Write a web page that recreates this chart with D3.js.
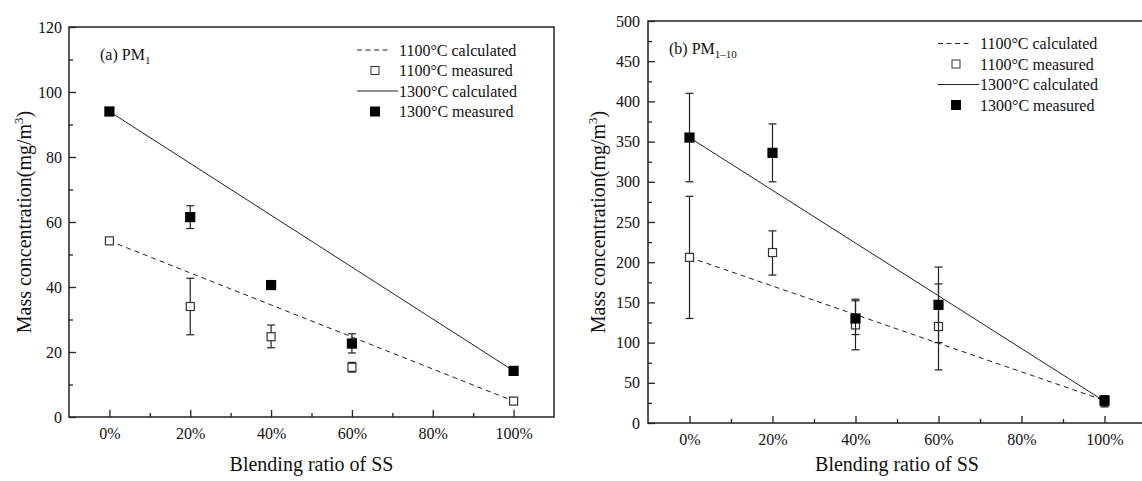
<!DOCTYPE html>
<html>
<head>
<meta charset="utf-8">
<script src="https://d3js.org/d3.v7.min.js"></script>
<style>
  body { margin: 0; background: #fff; }
  svg text { font-family: "Liberation Serif", "DejaVu Serif", "Times New Roman", serif !important; fill: #111; }
</style>
</head>
<body>
<div id="vis"></div>
<script>
// blending ratio of SS (%)
const ratios = [0, 20, 40, 60, 100];
const calcRatios = [0, 100];
const xTicks = [0, 20, 40, 60, 80, 100];
const legendLabels = ["1100\u00B0C calculated", "1100\u00B0C measured", "1300\u00B0C calculated", "1300\u00B0C measured"];

// (a) PM1
const pm1Calc1100 = [54.2, 4.9];
const pm1Calc1300 = [94, 14.2];
const pm1Meas1100 = [54.2, 34, 24.7, 15.3, 4.9];
const pm1Err1100 = [[53.6, 54.8], [25.3, 42.7], [21.3, 28.3], [13.8, 16.8], [4.2, 5.6]];
const pm1Meas1300 = [94, 61.5, 40.6, 22.6, 14.2];
const pm1Err1300 = [[93.4, 94.6], [58, 65], [39.6, 41.6], [19.7, 25.6], [13.6, 14.8]];
const pm1YTicks = [0, 20, 40, 60, 80, 100, 120];

// (b) PM1-10
const pm10Calc1100 = [206, 28];
const pm10Calc1300 = [355, 27];
const pm10Meas1100 = [206, 212, 122, 120, 27];
const pm10Err1100 = [[130, 282], [184, 239], [91, 154], [66, 194], [21, 33]];
const pm10Meas1300 = [355, 336, 130, 147, 28];
const pm10Err1300 = [[300, 410], [300, 372], [110, 152], [100, 173], [20, 34]];
const pm10YTicks = [0, 50, 100, 150, 200, 250, 300, 350, 400, 450, 500];

const W = 1142, H = 481;
const svg = d3.select("#vis").append("svg")
  .attr("width", W).attr("height", H)
  .attr("viewBox", [0, 0, W, H]);

function drawPanel(p) {
  const x = d3.scaleLinear().domain([-10, 110]).range([p.left, p.right]);
  const y = d3.scaleLinear().domain([0, p.yMax]).range([p.bottom, p.top]);
  const g = svg.append("g");
  const ink = "#222";

  // frame
  g.append("rect")
    .attr("x", p.left).attr("y", p.top)
    .attr("width", p.right - p.left).attr("height", p.bottom - p.top)
    .attr("fill", "none").attr("stroke", ink).attr("stroke-width", 1.5);

  // x axis, inward ticks
  const xAxis = d3.axisBottom(x).tickValues(xTicks).tickSize(-7).tickPadding(11)
    .tickFormat(d => d + "%");
  const gx = g.append("g").attr("transform", `translate(0,${p.bottom})`).call(xAxis);
  gx.select(".domain").remove();
  gx.selectAll(".tick line").attr("stroke", ink).attr("stroke-width", 1.3);
  gx.selectAll(".tick text").attr("font-size", 16);
  const gxm = g.append("g").attr("transform", `translate(0,${p.bottom})`)
    .call(d3.axisBottom(x).tickValues([10, 30, 50, 70, 90]).tickSize(-4).tickFormat(""));
  gxm.select(".domain").remove();
  gxm.selectAll(".tick line").attr("stroke", ink).attr("stroke-width", 1.3);

  // y axis, inward ticks
  const yAxis = d3.axisLeft(y).tickValues(p.yTicks).tickSize(-7).tickPadding(p.yPad);
  const gy = g.append("g").attr("transform", `translate(${p.left},0)`).call(yAxis);
  gy.select(".domain").remove();
  gy.selectAll(".tick line").attr("stroke", ink).attr("stroke-width", 1.3);
  gy.selectAll(".tick text").attr("font-size", 16);
  const step = p.yTicks[1] - p.yTicks[0];
  const gym = g.append("g").attr("transform", `translate(${p.left},0)`)
    .call(d3.axisLeft(y).tickValues(p.yTicks.slice(0, -1).map(v => v + step / 2)).tickSize(-4).tickFormat(""));
  gym.select(".domain").remove();
  gym.selectAll(".tick line").attr("stroke", ink).attr("stroke-width", 1.3);

  // axis titles
  const yt = g.append("text")
    .attr("transform", `translate(${p.yTitleX},${(p.top + p.bottom) / 2}) rotate(-90)`)
    .attr("text-anchor", "middle").attr("font-size", 20);
  yt.append("tspan").text("Mass concentration(mg/m");
  yt.append("tspan").attr("font-size", 13).attr("dy", -8).text("3");
  yt.append("tspan").attr("dy", 8).text(")");

  g.append("text")
    .attr("x", (x(-10) + x(110)) / 2).attr("y", 471)
    .attr("text-anchor", "middle").attr("font-size", 20)
    .text("Blending ratio of SS");

  // panel label
  const lab = g.append("text").attr("x", p.labelX).attr("y", p.labelY).attr("font-size", 16);
  lab.append("tspan").text(p.label);
  lab.append("tspan").attr("font-size", 11).attr("dy", 4).text(p.labelSub);

  // calculated lines
  const line = d3.line().x((d, i) => x(calcRatios[i])).y(d => y(d));
  g.append("path").datum(p.calc1100).attr("d", line)
    .attr("fill", "none").attr("stroke", ink).attr("stroke-width", 1).attr("stroke-dasharray", "5,4");
  g.append("path").datum(p.calc1300).attr("d", line)
    .attr("fill", "none").attr("stroke", ink).attr("stroke-width", 1);

  // error bars + markers
  function series(vals, errs, filled) {
    const s = g.append("g");
    const e = s.selectAll("g.err").data(errs).join("g").attr("class", "err");
    e.append("line")
      .attr("x1", (d, i) => x(ratios[i])).attr("x2", (d, i) => x(ratios[i]))
      .attr("y1", d => y(d[0])).attr("y2", d => y(d[1]));
    e.append("line")
      .attr("x1", (d, i) => x(ratios[i]) - 4).attr("x2", (d, i) => x(ratios[i]) + 4)
      .attr("y1", d => y(d[0])).attr("y2", d => y(d[0]));
    e.append("line")
      .attr("x1", (d, i) => x(ratios[i]) - 4).attr("x2", (d, i) => x(ratios[i]) + 4)
      .attr("y1", d => y(d[1])).attr("y2", d => y(d[1]));
    e.selectAll("line").attr("stroke", ink).attr("stroke-width", 1.2);
    const sz = filled ? 9 : 8;
    s.selectAll("rect").data(vals).join("rect")
      .attr("x", (d, i) => x(ratios[i]) - sz / 2).attr("y", d => y(d) - sz / 2)
      .attr("width", sz).attr("height", sz)
      .attr("fill", filled ? "#000" : "#fff")
      .attr("stroke", filled ? "#000" : "#333").attr("stroke-width", 1.2);
  }
  series(p.meas1100, p.err1100, false);
  series(p.meas1300, p.err1300, true);

  // legend
  const lg = g.append("g");
  legendLabels.forEach((t, i) => {
    const yy = p.legY + i * 20.5;
    lg.append("text").attr("x", p.legX).attr("y", yy + 5.5).attr("font-size", 16).text(t);
    if (i === 0) {
      lg.append("line").attr("x1", p.legX - 42).attr("x2", p.legX - 8).attr("y1", yy).attr("y2", yy)
        .attr("stroke", ink).attr("stroke-dasharray", "5,3.5");
    } else if (i === 2) {
      lg.append("line").attr("x1", p.legX - 42).attr("x2", p.legX - 1).attr("y1", yy).attr("y2", yy)
        .attr("stroke", ink);
    } else {
      const sz = i === 3 ? 9 : 8;
      lg.append("rect").attr("x", p.legX - 24 - sz / 2).attr("y", yy - sz / 2)
        .attr("width", sz).attr("height", sz)
        .attr("fill", i === 3 ? "#000" : "#fff").attr("stroke", i === 3 ? "#000" : "#333");
    }
  });
}

drawPanel({
  left: 69, right: 554, top: 27, bottom: 417, yMax: 120, yTicks: pm1YTicks, yPad: 7,
  yTitleX: 31, label: "(a) PM", labelSub: "1", labelX: 100, labelY: 60,
  legX: 399, legY: 50,
  calc1100: pm1Calc1100, calc1300: pm1Calc1300,
  meas1100: pm1Meas1100, err1100: pm1Err1100, meas1300: pm1Meas1300, err1300: pm1Err1300
});

drawPanel({
  left: 648, right: 1146, top: 21, bottom: 423, yMax: 500, yTicks: pm10YTicks, yPad: 8,
  yTitleX: 605, label: "(b) PM", labelSub: "1\u201310", labelX: 669, labelY: 54,
  legX: 980, legY: 43.5,
  calc1100: pm10Calc1100, calc1300: pm10Calc1300,
  meas1100: pm10Meas1100, err1100: pm10Err1100, meas1300: pm10Meas1300, err1300: pm10Err1300
});
</script>
</body>
</html>
